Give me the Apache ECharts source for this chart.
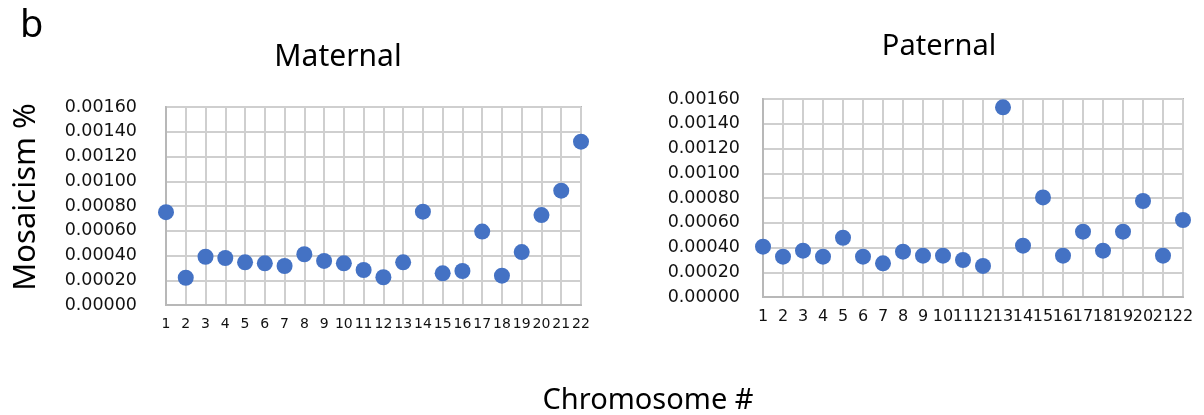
<!DOCTYPE html>
<html>
<head>
<meta charset="utf-8">
<script src="https://cdn.jsdelivr.net/npm/echarts@6/dist/echarts.min.js"></script>
<style>
  html, body { margin: 0; padding: 0; background: #fff; }
  #chart { width: 1204px; height: 415px; }
</style>
</head>
<body>
<div id="chart"></div>
<script>
const chromosomes = ['1', '2', '3', '4', '5', '6', '7', '8', '9', '10', '11',
  '12', '13', '14', '15', '16', '17', '18', '19', '20', '21', '22'];

const maternal = [0.00075, 0.00022, 0.00039, 0.00038, 0.000345, 0.000337, 0.000315,
  0.00041, 0.000356, 0.000337, 0.000283, 0.000224, 0.000345, 0.000754, 0.000256,
  0.000275, 0.000593, 0.000237, 0.000428, 0.000727, 0.000924, 0.00132];

const paternal = [0.000407, 0.000326, 0.000374, 0.000326, 0.000479, 0.000326, 0.000272,
  0.000366, 0.000334, 0.000334, 0.000299, 0.000251, 0.001533, 0.000415, 0.000805,
  0.000334, 0.000528, 0.000374, 0.000528, 0.000776, 0.000334, 0.000622];

const yTicks = { min: 0, max: 0.0016, interval: 0.0002 };

const chart = echarts.init(document.getElementById('chart'));

const font = 'Noto Sans';

function xAxisFor(gridIndex, size) {
  return {
    gridIndex,
    type: 'category',
    data: chromosomes,
    boundaryGap: false,
    axisLine: { show: true, lineStyle: { color: '#b8b8b8', width: 2 } },
    axisTick: { show: false },
    splitLine: { show: true, interval: 0, lineStyle: { color: '#cfcfcf', width: 2 } },
    axisLabel: {
      interval: 0,
      margin: 12,
      color: '#111',
      fontFamily: 'DejaVu Sans',
      fontSize: size,
    },
  };
}

function yAxisFor(gridIndex, margin) {
  return {
    gridIndex,
    type: 'value',
    min: yTicks.min,
    max: yTicks.max,
    interval: yTicks.interval,
    axisLine: { show: true, lineStyle: { color: '#b8b8b8', width: 2 } },
    axisTick: { show: false },
    splitLine: { show: true, lineStyle: { color: '#cfcfcf', width: 2 } },
    axisLabel: {
      margin,
      color: '#111',
      fontFamily: 'DejaVu Sans',
      fontSize: 17.5,
      formatter: (v) => v.toFixed(5),
    },
  };
}

const options = {
  animation: false,
  backgroundColor: '#fff',
  title: [
    { text: 'b', left: 15, top: 2, textStyle: { fontFamily: font, fontSize: 38, fontWeight: 'normal', color: '#000' } },
    { text: 'Maternal', left: 333, top: 37, textAlign: 'center', textStyle: { fontFamily: font, fontSize: 30, fontWeight: 'normal', color: '#000' } },
    { text: 'Paternal', left: 934, top: 27, textAlign: 'center', textStyle: { fontFamily: font, fontSize: 29, fontWeight: 'normal', color: '#000' } },
    { text: 'Chromosome #', left: 643, top: 381, textAlign: 'center', textStyle: { fontFamily: font, fontSize: 29, fontWeight: 'normal', color: '#000' } },
  ],
  graphic: [
    {
      type: 'text',
      x: 26,
      y: 197,
      rotation: Math.PI / 2,
      style: {
        text: 'Mosaicism %',
        fontFamily: font,
        fontSize: 31,
        fill: '#000',
        align: 'center',
        verticalAlign: 'middle',
      },
    },
  ],
  grid: [
    { left: 166, top: 107, width: 415, height: 198, show: true, borderColor: '#b8b8b8', borderWidth: 2 },
    { left: 763, top: 99, width: 420, height: 198, show: true, borderColor: '#b8b8b8', borderWidth: 2 },
  ],
  xAxis: [xAxisFor(0, 14), xAxisFor(1, 16)],
  yAxis: [yAxisFor(0, 29), yAxisFor(1, 23)],
  series: [
    {
      name: 'Maternal',
      type: 'scatter',
      xAxisIndex: 0,
      yAxisIndex: 0,
      symbolSize: 16,
      itemStyle: { color: '#4472C4', opacity: 1 },
      data: maternal,
    },
    {
      name: 'Paternal',
      type: 'scatter',
      xAxisIndex: 1,
      yAxisIndex: 1,
      symbolSize: 16,
      itemStyle: { color: '#4472C4', opacity: 1 },
      data: paternal,
    },
  ],
};

chart.setOption(options);
</script>
</body>
</html>
